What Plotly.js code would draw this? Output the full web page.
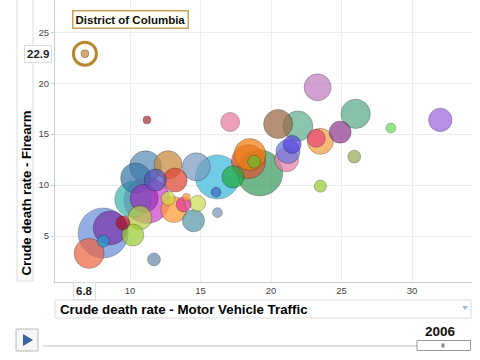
<!DOCTYPE html>
<html><head><meta charset="utf-8">
<script src="https://cdn.plot.ly/plotly-3.0.1.min.js"></script>
<style>html,body{margin:0;padding:0;background:#fff;}#chart{width:480px;height:360px;}</style>
</head><body><div id="chart"></div>
<script>
// Crude death rate - Motor Vehicle Traffic (x), Firearm (y), population (millions, bubble size)
const motorVehicle = [8.1, 11.2, 19.2, 16.2, 10.2, 18.4, 8.6, 11.1, 18.5, 7.1, 21.9, 10.4, 26.0, 20.5, 12.7, 14.7, 11.0, 23.3, 23.5, 13.1, 21.1, 21.2, 13.2, 10.7, 32.0, 24.9, 11.8, 17.3, 10.2, 14.5, 17.1, 21.5, 23.2, 14.8, 13.8, 12.7, 9.5, 25.9, 18.8, 11.7, 8.1, 23.5, 16.1, 16.2, 28.5, 11.2, 14.0];
const firearm      = [5.3, 8.5, 11.2, 10.8, 8.6, 12.3, 5.8, 11.8, 13.0, 3.3, 15.8, 10.7, 17.0, 16.0, 12.0, 11.8, 8.7, 19.6, 14.3, 7.6, 12.5, 13.3, 10.5, 6.8, 16.4, 15.2, 10.5, 10.8, 5.1, 6.5, 16.2, 14.0, 14.6, 8.2, 8.1, 8.7, 6.3, 12.8, 12.3, 2.7, 4.5, 9.9, 9.3, 7.3, 15.6, 16.4, 8.8];
const population   = [36.0, 30.5, 30.5, 27.9, 18.7, 16.6, 16.6, 14.7, 14.7, 13.0, 13.0, 13.0, 12.4, 12.1, 11.3, 11.3, 11.3, 10.5, 9.7, 9.7, 8.3, 8.3, 8.3, 8.3, 7.9, 7.0, 7.0, 7.0, 7.0, 7.0, 5.2, 4.7, 4.7, 3.7, 3.2, 2.8, 2.8, 2.4, 2.4, 2.4, 2.1, 2.1, 1.4, 1.4, 1.4, 0.9, 0.9];
const colors       = ['#6a8fdc', '#cc44cc', '#3d9a60', '#3cb8dc', '#3bb8b0', '#dd5533', '#7a35a8', '#5a8db5', '#f08010', '#ee6644', '#60b090', '#3a7aaa', '#5aaa88', '#996644', '#c88a40', '#7b9cc0', '#9933bb', '#c07cc0', '#f5a040', '#ff9a33', '#e87fa8', '#6677dd', '#dd4433', '#bbcc44', '#9966dd', '#8e3b90', '#5555bb', '#22aa44', '#99cc33', '#5599aa', '#e87ba0', '#5544dd', '#e8457a', '#ccdd55', '#dd3399', '#ccdd44', '#aa1122', '#99aa55', '#66bb33', '#6688aa', '#2299cc', '#99cc33', '#4466cc', '#7799bb', '#66dd55', '#aa3333', '#ff9933'];

// Highlighted entity
const highlightName = ['District of Columbia'];
const highlightX = [6.8];
const highlightY = [22.9];
const highlightPop = [0.9];

const xTicks = [10, 15, 20, 25, 30];
const yTicks = [5, 10, 15, 20, 25];
const xTitle = 'Crude death rate - Motor Vehicle Traffic';
const yTitle = 'Crude death rate - Firearm';
const year = ['2006'];

const FONT = 'Liberation Sans, Arial, Helvetica, sans-serif';
const L = 55, R = 8, T = 0, B = 78, W = 480, H = 360;
const PW = W - L - R, PH = H - T - B;
const px = v => (v - L) / PW;
const py = v => (H - B - v) / PH;
const sizeref = 0.0288;

const traces = [
  {
    x: motorVehicle, y: firearm, type: 'scatter', mode: 'markers',
    marker: { size: population, sizemode: 'area', sizeref: sizeref, color: colors, opacity: 0.72,
              line: { color: 'rgba(0,0,0,0.35)', width: 1 } },
    hoverinfo: 'skip'
  },
  {
    x: highlightX, y: highlightY, type: 'scatter', mode: 'markers',
    marker: { size: highlightPop, sizemode: 'area', sizeref: sizeref, color: '#d4a060', opacity: 0.9,
              line: { color: 'rgba(0,0,0,0.3)', width: 1 } },
    hoverinfo: 'skip'
  },
  {
    x: highlightX, y: highlightY, type: 'scatter', mode: 'markers',
    marker: { size: 23, symbol: 'circle-open', color: '#b8862b', line: { width: 3 } },
    hoverinfo: 'skip'
  }
];

const shapes = [
  { type: 'rect', xref: 'paper', yref: 'paper', x0: px(17), x1: px(33), y0: py(281), y1: py(-5),
    line: { color: '#dcdcdc', width: 1 }, fillcolor: '#fff', layer: 'below' },
  { type: 'rect', xref: 'paper', yref: 'paper', x0: px(55), x1: px(471), y0: py(318), y1: py(300),
    line: { color: '#dcdcdc', width: 1 }, fillcolor: '#fff' },
  { type: 'path', xref: 'paper', yref: 'paper',
    path: `M ${px(462)} ${py(306)} L ${px(468)} ${py(306)} L ${px(465)} ${py(310)} Z`,
    line: { width: 0 }, fillcolor: '#a9b9cc' },
  { type: 'rect', xref: 'paper', yref: 'paper', x0: px(16), x1: px(38), y0: py(351), y1: py(329),
    line: { color: '#b8b8b8', width: 1 }, fillcolor: '#f6f6f6' },
  { type: 'path', xref: 'paper', yref: 'paper',
    path: `M ${px(23)} ${py(334)} L ${px(23)} ${py(346)} L ${px(33)} ${py(340)} Z`,
    line: { width: 0 }, fillcolor: '#3b63a3' },
  { type: 'line', xref: 'paper', yref: 'paper', x0: px(43), x1: px(417), y0: py(346), y1: py(346),
    line: { color: '#bbbbbb', width: 1 } },
  { type: 'rect', xref: 'paper', yref: 'paper', x0: px(417), x1: px(470.5), y0: py(350.5), y1: py(340.5),
    line: { color: '#999', width: 1 }, fillcolor: '#fff' },
  { type: 'rect', xref: 'paper', yref: 'paper', x0: px(441.5), x1: px(444.5), y0: py(347.5), y1: py(343.5),
    line: { width: 0 }, fillcolor: '#888' }
];

const annotations = [
  { xref: 'paper', yref: 'paper', x: px(26), y: py(278), xanchor: 'center', yanchor: 'bottom',
    textangle: -90, showarrow: false, text: '<b>' + yTitle + '</b>',
    font: { family: FONT, size: 13.2, color: '#000' } },
  { xref: 'paper', yref: 'paper', x: px(58), y: py(309), xanchor: 'left', yanchor: 'middle',
    showarrow: false, text: '<b>' + xTitle + '</b>',
    font: { family: FONT, size: 13.3, color: '#000' } },
  { xref: 'paper', yref: 'y', x: px(38), y: highlightY[0], xanchor: 'center', yanchor: 'middle',
    showarrow: false, text: '<b>' + highlightY[0].toFixed(1) + '</b>',
    font: { family: FONT, size: 11.5, color: '#222' },
    bgcolor: '#fff', bordercolor: '#dddddd', borderwidth: 1, borderpad: 2 },
  { xref: 'x', yref: 'paper', x: highlightX[0], y: py(290.5), xanchor: 'center', yanchor: 'middle',
    showarrow: false, text: '<b>' + highlightX[0].toFixed(1) + '</b>',
    font: { family: FONT, size: 11.5, color: '#222' },
    bgcolor: '#fff', bordercolor: '#dddddd', borderwidth: 1, borderpad: 2 },
  { xref: 'paper', yref: 'paper', x: px(130), y: py(19.5), xanchor: 'center', yanchor: 'middle',
    showarrow: false, text: '<b>' + highlightName[0] + '</b>',
    font: { family: FONT, size: 11.5, color: '#111' },
    bgcolor: '#fffdf4', bordercolor: '#c9a25c', borderwidth: 1.5, borderpad: 2 },
  { xref: 'paper', yref: 'paper', x: px(458), y: py(331.5), xanchor: 'right', yanchor: 'middle',
    showarrow: false, text: '<b>' + year[0] + '</b>',
    font: { family: FONT, size: 13.5, color: '#111' } }
];

const layout = {
  width: W, height: H,
  margin: { l: L, r: R, t: T, b: B, pad: 0 },
  paper_bgcolor: '#fff', plot_bgcolor: '#fff',
  showlegend: false,
  font: { family: FONT, size: 9.5, color: '#444' },
  xaxis: {
    range: [4.68, 34.25], tickvals: xTicks, ticktext: xTicks.map(String),
    showgrid: true, gridcolor: '#ececec', zeroline: false,
    showline: true, linecolor: '#cccccc', ticks: '', automargin: false,
    tickfont: { family: FONT, size: 9.5, color: '#444' }
  },
  yaxis: {
    range: [0.49, 28.17], tickvals: yTicks, ticktext: yTicks.map(String),
    showgrid: true, gridcolor: '#ececec', zeroline: false,
    showline: true, linecolor: '#cccccc', ticks: 'outside', ticklen: 3, tickcolor: '#cccccc',
    automargin: false,
    tickfont: { family: FONT, size: 9.5, color: '#444' }
  },
  shapes: shapes,
  annotations: annotations
};

Plotly.newPlot('chart', traces, layout, { staticPlot: true, displayModeBar: false });
</script>
</body></html>
